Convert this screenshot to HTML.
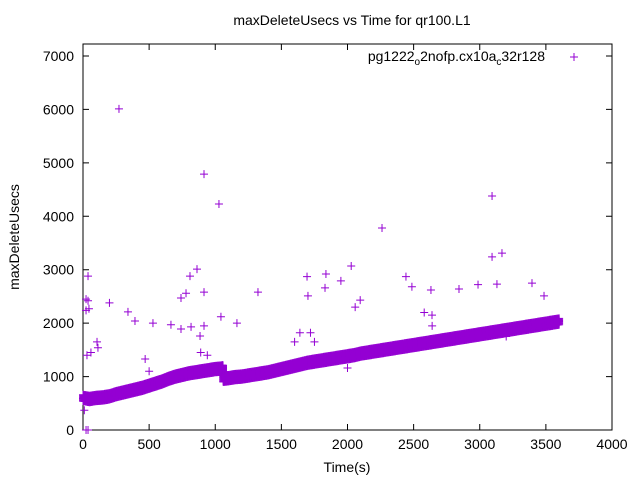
<!DOCTYPE html>
<html><head><meta charset="utf-8"><style>
html,body{margin:0;padding:0;background:#fff;}
svg{display:block;font-family:"Liberation Sans",sans-serif;}
</style></head><body>
<svg id="chart" width="640" height="480" xmlns="http://www.w3.org/2000/svg">
<text x="352" y="25" text-anchor="middle" font-size="14">maxDeleteUsecs vs Time for qr100.L1</text>
<text x="0" y="0" transform="translate(19,237) rotate(-90)" text-anchor="middle" font-size="14">maxDeleteUsecs</text>
<text x="347" y="472" text-anchor="middle" font-size="14">Time(s)</text>
<g id="axes"></g>
<g id="marks"></g>
<text x="545" y="61" text-anchor="end" font-size="14">pg1222<tspan font-size="10" dy="4">o</tspan><tspan dy="-4">2nofp.cx10a</tspan><tspan font-size="10" dy="4">c</tspan><tspan dy="-4">32r128</tspan></text>
<path d="M570,57h8M574,53v8" stroke="#9400d3" stroke-width="1"/>
</svg>
<script>
const xTicks=[0,500,1000,1500,2000,2500,3000,3500,4000];
const yTicks=[0,1000,2000,3000,4000,5000,6000,7000];
const bandTimes=[0,50,100,150,200,250,300,350,400,450,500,550,600,650,700,750,800,850,900,950,1000,1050,1060,1100,1150,1200,1250,1300,1350,1400,1450,1500,1550,1600,1650,1700,1750,1800,1850,1900,1950,2000,2050,2100,2150,2200,2250,2300,2350,2400,2450,2500,2550,2600,2650,2700,2750,2800,2850,2900,2950,3000,3050,3100,3150,3200,3250,3300,3350,3400,3450,3500,3550,3600];
const bandValues=[600,580,600,610,630,670,700,730,760,790,830,870,910,960,1000,1030,1060,1080,1100,1120,1140,1150,960,970,990,1000,1020,1040,1060,1080,1110,1140,1170,1200,1230,1260,1280,1300,1320,1340,1360,1380,1400,1430,1450,1470,1490,1510,1530,1550,1570,1590,1610,1630,1650,1670,1690,1710,1730,1750,1770,1790,1810,1830,1850,1870,1890,1910,1930,1950,1970,1990,2010,2030];
const bandSpread=60;
const outTimes=[272,915,1028,2261,3093,3093,3168,862,809,779,741,915,38,23,38,23,45,200,340,393,529,665,741,817,915,885,1043,1164,1323,1694,1701,1837,1950,2028,1830,2058,2096,2442,2487,2631,2639,2843,2987,3130,3395,3486,106,113,60,30,23,38,2000,1600,1640,1720,1750,2300,2580,2640,3050,3200,10,470,500,890,940];
const outValues=[6010,4790,4230,3780,4380,3240,3310,3010,2880,2560,2470,2580,2880,2450,2420,2240,2270,2380,2210,2040,2000,1970,1890,1930,1950,1760,2120,2000,2580,2870,2510,2920,2790,3070,2660,2300,2430,2870,2680,2620,2150,2640,2720,2730,2750,2510,1650,1540,1450,1400,0,0,1160,1650,1820,1820,1650,1500,2200,1950,1800,1750,370,1330,1100,1450,1400];
const X0=83,X1=612,Y0=430,Y1=44;
const xs=v=>X0+(v-0)/4000*(X1-X0);
const ys=v=>Y0-(v-0)/7000*(Y0-56);
const ns="http://www.w3.org/2000/svg";
const axes=document.getElementById('axes');
const marks=document.getElementById('marks');
function mk(tag,attrs,parent){const e=document.createElementNS(ns,tag);for(const k in attrs)e.setAttribute(k,attrs[k]);parent.appendChild(e);return e;}
const frame=mk('rect',{x:X0,y:Y1,width:X1-X0,height:Y0-Y1,fill:'none',stroke:'#000','stroke-width':1},axes);


xTicks.forEach(t=>{const x=xs(t);
 const l=mk('path',{d:`M${x},${Y0}v-6M${x},${Y1}v6`,stroke:'#000'},axes);
 
 
 const tx=mk('text',{x:x,y:Y0+19,'text-anchor':'middle','font-size':14},axes);tx.textContent=t;
 
 });
yTicks.forEach(t=>{const y=ys(t);
 const l=mk('path',{d:`M${X0},${y}h6M${X1},${y}h-6`,stroke:'#000'},axes);
 
 
 const tx=mk('text',{x:X0-9,y:y+5,'text-anchor':'end','font-size':14},axes);tx.textContent=t;
 
 });
function cross(t,v,col){const x=xs(t),y=ys(v);
 const p=mk('path',{d:`M${x-4},${y}h8M${x},${y-4}v8`,stroke:col,'stroke-width':1},marks);
 
 }
for(let i=0;i<bandTimes.length;i++){
 const t=bandTimes[i],v=bandValues[i];
 if(i+1>=bandTimes.length){for(let d=-bandSpread;d<=bandSpread;d+=20)cross(t,v+d,'#9400d3');break;}
 const tn=bandTimes[i+1],vn=bandValues[i+1];
 const jump=Math.abs(vn-v)>100;
 for(let f=0;f<1;f+=0.125){
  const tt=t+(tn-t)*f;
  const vv=jump?v:v+(vn-v)*f;
  for(let d=-bandSpread;d<=bandSpread;d+=20)cross(tt,vv+d,'#9400d3');
 }
}
for(let i=0;i<outTimes.length;i++)cross(outTimes[i],outValues[i],'#9400d3');
</script>
</body></html>
